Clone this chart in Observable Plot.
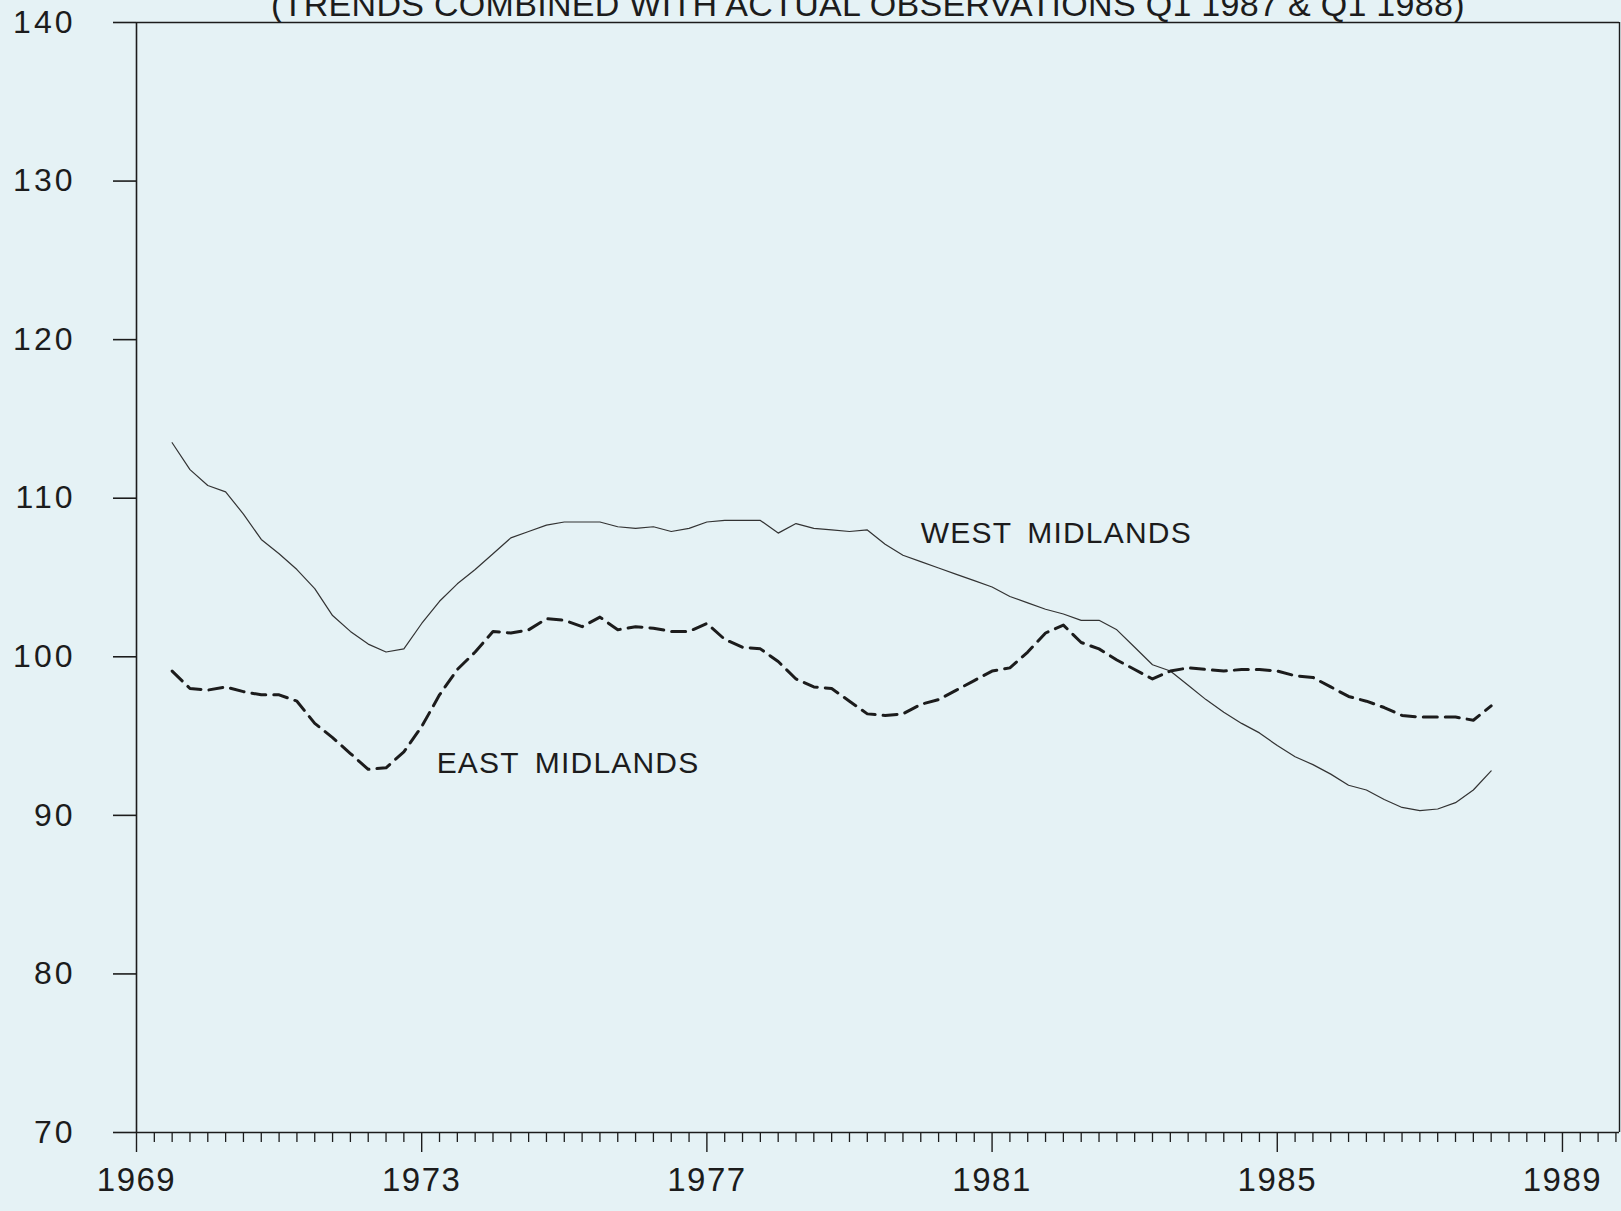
<!DOCTYPE html>
<html>
<head>
<meta charset="utf-8">
<script src="https://cdn.jsdelivr.net/npm/d3@7"></script>
<script src="https://cdn.jsdelivr.net/npm/@observablehq/plot@0.6"></script>
<style>
  html, body { margin: 0; padding: 0; background: #e5f2f5; }
  #wrap { position: relative; width: 1621px; height: 1211px; overflow: hidden; background: #e5f2f5; }
  #title { position: absolute; left: 271px; top: -13px; font-family: "Liberation Sans", sans-serif; font-size: 34px; line-height: 34px; letter-spacing: 0.3px; white-space: nowrap; color: #1c1c1c; }
  #chart { position: absolute; left: 0; top: 0; }
</style>
</head>
<body>
<div id="wrap">
  <div id="chart"></div>
  <div id="title">(TRENDS COMBINED WITH ACTUAL OBSERVATIONS Q1 1987 &amp; Q1 1988)</div>
</div>
<script>
// Quarterly observations, Q3 1969 .. Q1 1988
const quarters = d3.range(0, 75).map(i => 1969.5 + i * 0.25);

const westMidlands = [
  113.5, 111.8, 110.8, 110.4, 109.0, 107.4, 106.5, 105.5, 104.3, 102.6,
  101.6, 100.8, 100.3, 100.5, 102.1, 103.5, 104.6, 105.5, 106.5, 107.5,
  107.9, 108.3, 108.5, 108.5, 108.5, 108.2, 108.1, 108.2, 107.9, 108.1,
  108.5, 108.6, 108.6, 108.6, 107.8, 108.4, 108.1, 108.0, 107.9, 108.0,
  107.1, 106.4, 106.0, 105.6, 105.2, 104.8, 104.4, 103.8, 103.4, 103.0,
  102.7, 102.3, 102.3, 101.7, 100.6, 99.5, 99.1, 98.2, 97.3, 96.5,
  95.8, 95.2, 94.4, 93.7, 93.2, 92.6, 91.9, 91.6, 91.0, 90.5,
  90.3, 90.4, 90.8, 91.6, 92.8
];

const eastMidlands = [
  99.1, 98.0, 97.9, 98.1, 97.8, 97.6, 97.6, 97.2, 95.8, 94.9,
  93.9, 92.9, 93.0, 94.0, 95.6, 97.6, 99.2, 100.3, 101.6, 101.5,
  101.7, 102.4, 102.3, 101.9, 102.5, 101.7, 101.9, 101.8, 101.6, 101.6,
  102.1, 101.1, 100.6, 100.5, 99.7, 98.6, 98.1, 98.0, 97.2, 96.4,
  96.3, 96.4, 97.0, 97.3, 97.9, 98.5, 99.1, 99.3, 100.3, 101.5,
  102.0, 100.9, 100.5, 99.8, 99.2, 98.6, 99.1, 99.3, 99.2, 99.1,
  99.2, 99.2, 99.1, 98.8, 98.7, 98.1, 97.5, 97.2, 96.8, 96.3,
  96.2, 96.2, 96.2, 96.0, 96.9
];

const yTicks = [70, 80, 90, 100, 110, 120, 130, 140];
const xMajorTicks = [1969, 1973, 1977, 1981, 1985, 1989];
const xMinorTicks = d3.range(0, 84).map(i => 1969 + i * 0.25).filter(t => !xMajorTicks.includes(t));

const seriesNames = ["WEST MIDLANDS", "EAST MIDLANDS"];
const labelYears = [1980.0, 1973.21];
const labelValues = [107.8, 93.3];

const westRows = quarters.map((q, i) => ({year: q, value: westMidlands[i]}));
const eastRows = quarters.map((q, i) => ({year: q, value: eastMidlands[i]}));
const labelRows = seriesNames.map((s, i) => ({name: s, year: labelYears[i], value: labelValues[i]}));

const ink = "#1c1c1c";

const chart = Plot.plot({
  width: 1621,
  height: 1211,
  marginLeft: 136,
  marginRight: 2,
  marginTop: 22,
  marginBottom: 79,
  style: {background: "transparent", fontFamily: "'Liberation Sans', sans-serif", color: ink},
  x: {domain: [1969, 1989.8]},
  y: {domain: [70, 140]},
  marks: [
    Plot.ruleY([70, 140], {stroke: ink, strokeWidth: 1.6}),
    Plot.ruleX([1969], {stroke: ink, strokeWidth: 1.6}),
    Plot.ruleX([1989.8], {stroke: ink, strokeWidth: 1.4}),
    Plot.axisY({ticks: yTicks, tickSize: 23, tickPadding: 38, fontSize: 32, stroke: ink, fill: ink, strokeWidth: 1.6, label: null, tickFormat: d => String(d)}),
    Plot.axisX({ticks: xMinorTicks, tickSize: 10, stroke: ink, strokeWidth: 1.3, label: null, tickFormat: () => ""}),
    Plot.axisX({ticks: xMajorTicks, tickSize: 20, tickPadding: 15, fontSize: 33, stroke: ink, fill: ink, strokeWidth: 1.4, label: null, tickFormat: d => String(d)}),
    Plot.line(westRows, {x: "year", y: "value", stroke: "#333", strokeWidth: 1.2}),
    Plot.line(eastRows, {x: "year", y: "value", stroke: ink, strokeWidth: 3, strokeDasharray: "14,8"}),
    Plot.text(labelRows, {x: "year", y: "value", text: "name", textAnchor: "start", fontSize: 30, fill: ink})
  ]
});

d3.select(chart).selectAll('g[aria-label="y-axis tick label"] text').style("letter-spacing", "3px");
d3.select(chart).selectAll('g[aria-label="x-axis tick label"] text').style("letter-spacing", "1.5px");
d3.select(chart).selectAll('g[aria-label="text"] text').style("letter-spacing", "1.2px").style("word-spacing", "6px");

document.getElementById("chart").appendChild(chart);
</script>
</body>
</html>
